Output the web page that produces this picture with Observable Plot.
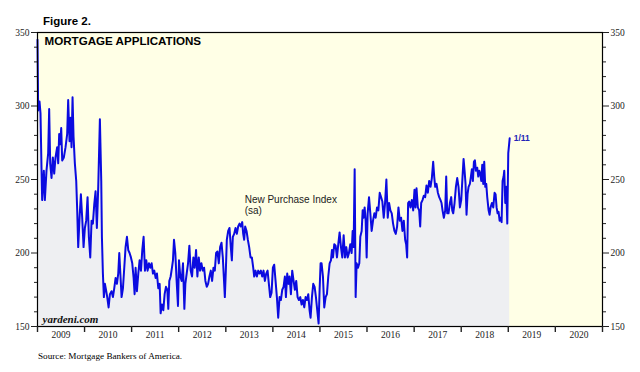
<!DOCTYPE html>
<html><head><meta charset="utf-8">
<script src="https://cdn.jsdelivr.net/npm/d3@7"></script>
<script src="https://cdn.jsdelivr.net/npm/@observablehq/plot@0.6"></script>
<style>
html,body{margin:0;padding:0;background:#fff;}
#wrap{position:relative;width:640px;height:372px;overflow:hidden;}
#chart{position:absolute;left:0;top:0;}
#title{position:absolute;left:43px;top:13px;font:bold 11.5px "Liberation Sans",Arial,sans-serif;line-height:16px;color:#000;}
#source{position:absolute;left:38px;top:349px;font:9.2px "Liberation Serif","Times New Roman",serif;line-height:14px;color:#000;}
</style></head><body>
<div id="wrap"><div id="chart"></div><div id="title"></div><div id="source"></div></div>
<script>
// ---- texts ----
const figureTitle = "Figure 2.";
const panelTitle = "MORTGAGE APPLICATIONS";
const seriesLabel = "New Purchase Index\n(sa)";
const seriesLabelAt = [2013.40, 232.7];
const lastLabel = "1/11";
const brand = "yardeni.com";
const sourceText = "Source: Mortgage Bankers of America.";

// ---- ticks ----
const yMajor = [150, 200, 250, 300, 350];
const yMinor = [160, 170, 180, 190, 210, 220, 230, 240, 260, 270, 280, 290, 310, 320, 330, 340];
const yearBounds = [2009, 2010, 2011, 2012, 2013, 2014, 2015, 2016, 2017, 2018, 2019, 2020, 2021];
const yearLabels = ["2009", "2010", "2011", "2012", "2013", "2014", "2015", "2016", "2017", "2018", "2019", "2020"];

// ---- data: weekly New Purchase Index (decimal year, value) ----
const weekPos = [
2009.000,2009.014,2009.043,2009.064,2009.085,2009.099,2009.135,2009.156,2009.191,2009.227,2009.248,2009.270,2009.298,2009.326,2009.355,2009.383,2009.418,2009.440,2009.461,2009.482,2009.504,2009.525,2009.560,2009.596,2009.631,2009.652,2009.681,2009.702,2009.723,2009.745,2009.766,2009.794,2009.823,2009.844,2009.865,2009.894,2009.922,2009.950,2009.979,
2010.007,2010.035,2010.064,2010.092,2010.121,2010.149,2010.177,2010.206,2010.234,2010.262,2010.291,2010.326,2010.355,2010.369,2010.390,2010.411,2010.433,2010.461,2010.482,2010.511,2010.539,2010.574,2010.603,2010.631,2010.660,2010.688,2010.716,2010.738,2010.766,2010.787,2010.816,2010.844,2010.872,2010.901,2010.929,2010.957,2010.986,
2011.014,2011.043,2011.064,2011.085,2011.113,2011.142,2011.170,2011.199,2011.227,2011.255,2011.284,2011.312,2011.340,2011.369,2011.397,2011.426,2011.454,2011.482,2011.511,2011.539,2011.567,2011.596,2011.617,2011.645,2011.674,2011.702,2011.730,2011.759,2011.780,2011.801,2011.830,2011.858,2011.879,2011.901,2011.929,2011.957,2011.986,
2012.007,2012.035,2012.064,2012.092,2012.121,2012.142,2012.170,2012.199,2012.227,2012.255,2012.284,2012.312,2012.340,2012.369,2012.397,2012.426,2012.454,2012.482,2012.511,2012.539,2012.567,2012.596,2012.624,2012.652,2012.681,2012.709,2012.738,2012.766,2012.794,2012.823,2012.851,2012.879,2012.908,2012.936,2012.957,2012.979,
2013.000,2013.021,2013.050,2013.078,2013.106,2013.128,2013.149,2013.177,2013.206,2013.234,2013.262,2013.291,2013.319,2013.348,2013.369,2013.390,2013.411,2013.440,2013.468,2013.496,2013.525,2013.553,2013.582,2013.603,2013.631,2013.660,2013.688,2013.716,2013.745,2013.773,2013.801,2013.830,2013.858,2013.887,2013.915,2013.943,2013.972,
2014.000,2014.028,2014.057,2014.085,2014.113,2014.142,2014.170,2014.199,2014.227,2014.255,2014.277,2014.305,2014.333,2014.355,2014.383,2014.411,2014.440,2014.468,2014.496,2014.525,2014.553,2014.582,2014.610,2014.638,2014.667,2014.695,2014.723,2014.752,2014.780,2014.801,2014.830,2014.858,2014.887,2014.915,2014.943,2014.972,2014.993,
2015.014,2015.035,2015.064,2015.092,2015.121,2015.149,2015.177,2015.206,2015.234,2015.255,2015.277,2015.305,2015.333,2015.362,2015.390,2015.418,2015.447,2015.475,2015.504,2015.532,2015.560,2015.589,2015.617,2015.645,2015.674,2015.695,2015.716,2015.738,2015.759,2015.780,2015.809,2015.837,2015.858,2015.887,2015.908,2015.929,2015.950,2015.972,2015.993,
2016.014,2016.043,2016.071,2016.099,2016.128,2016.156,2016.184,2016.213,2016.241,2016.270,2016.298,2016.326,2016.355,2016.383,2016.411,2016.440,2016.468,2016.496,2016.525,2016.553,2016.582,2016.610,2016.638,2016.667,2016.695,2016.723,2016.752,2016.780,2016.809,2016.830,2016.851,2016.872,2016.894,2016.922,2016.950,2016.979,
2017.007,2017.028,2017.050,2017.078,2017.106,2017.128,2017.149,2017.177,2017.206,2017.234,2017.262,2017.291,2017.319,2017.348,2017.376,2017.404,2017.426,2017.447,2017.475,2017.504,2017.532,2017.560,2017.582,2017.603,2017.631,2017.660,2017.681,2017.702,2017.730,2017.759,2017.787,2017.809,2017.830,2017.858,2017.887,2017.915,2017.943,2017.972,
2018.000,2018.028,2018.050,2018.071,2018.092,2018.113,2018.135,2018.156,2018.184,2018.206,2018.227,2018.248,2018.270,2018.291,2018.312,2018.340,2018.362,2018.383,2018.404,2018.426,2018.447,2018.468,2018.489,2018.511,2018.532,2018.553,2018.582,2018.603,2018.624,2018.652,2018.681,2018.709,2018.730,2018.752,2018.773,2018.794,2018.816,2018.837,2018.858,2018.879,2018.901,2018.915,2018.936,2018.957,2018.979,
2019.000,2019.030
];
const purchaseIndex = [
345,297,303,295,258,236,256,236,256,268,298,261,251,265,254,265,272,261,281,274,285,263,265,272,281,304,276,292,272,306,279,261,249,229,204,224,240,224,204,
217,222,238,211,197,222,220,233,242,217,245,291,249,211,186,170,179,174,170,163,172,174,170,176,183,179,186,200,183,170,176,190,204,211,202,200,197,
193,183,172,190,174,186,195,188,202,211,188,195,188,193,190,193,186,188,183,186,176,179,159,165,161,172,177,175,162,181,184,190,195,209,200,181,164,
195,184,181,193,162,179,186,193,205,188,184,197,190,202,184,197,188,193,188,190,181,177,179,184,188,181,190,188,200,201,193,204,207,197,184,170,
188,209,215,217,204,195,211,213,217,213,218,220,218,221,213,209,218,215,209,204,197,197,190,184,188,184,188,186,188,184,188,181,186,188,179,170,173,
190,192,181,170,156,170,168,175,177,184,170,186,179,184,172,188,181,175,181,170,168,170,165,168,163,170,168,172,161,156,170,179,177,170,161,152,175,
193,193,184,163,170,172,184,193,195,202,197,206,205,197,206,214,204,197,212,197,204,197,200,206,200,215,204,257,170,193,190,193,211,215,229,224,231,222,197,
227,238,227,215,222,227,224,231,229,241,238,235,224,234,250,224,234,229,227,220,215,213,218,231,222,224,215,222,209,206,197,234,235,231,236,229,
243,231,244,231,229,218,234,236,239,238,246,241,249,245,251,262,252,245,247,241,238,236,234,229,224,229,252,227,227,234,238,229,227,234,245,251,245,231,
236,252,264,256,247,226,240,245,247,252,257,249,262,263,256,258,252,256,254,249,260,247,262,245,247,238,229,226,231,234,231,241,240,231,227,228,222,224,221,249,252,256,234,245,220,
268,278
];

const toDate = (t) => {
  const y = Math.floor(t);
  const a = Date.UTC(y, 0, 1), b = Date.UTC(y + 1, 0, 1);
  return new Date(a + (t - y) * (b - a));
};
const data = weekPos.map((t, i) => ({date: toDate(t), value: purchaseIndex[i]}));
const last = data[data.length - 1];
const yearStarts = yearBounds.map(y => new Date(Date.UTC(y, 0, 1)));
const yearMids = yearLabels.map(s => new Date(Date.UTC(+s, 6, 2)));
const labelOf = new Map(yearLabels.map(s => [+s, s]));

const serif = "'Liberation Serif','Times New Roman',serif";
const sans = "'Liberation Sans',Arial,Helvetica,sans-serif";

const chart = Plot.plot({
  width: 640, height: 372,
  marginLeft: 37, marginRight: 38, marginTop: 32, marginBottom: 46,
  style: {background: "transparent", fontFamily: serif, fontSize: "9.5px", color: "#222", overflow: "visible"},
  x: {type: "utc", domain: [yearStarts[0], yearStarts[yearStarts.length - 1]]},
  y: {domain: [150, 350]},
  marks: [
    Plot.frame({fill: "#FFFFE6", stroke: null}),
    Plot.areaY(data, {x: "date", y1: 150, y2: "value", fill: "#EEEFF2"}),
    Plot.line(data, {x: "date", y: "value", stroke: "#0B0BE0", strokeWidth: 2}),
    Plot.frame({stroke: "#000", strokeWidth: 1.2}),
    Plot.axisY(yMajor, {anchor: "left", tickSize: 6, tickPadding: 2, label: null, fontFamily: serif, fontSize: 9.5}),
    Plot.axisY(yMinor, {anchor: "left", tickSize: 3, tickFormat: () => "", label: null}),
    Plot.axisY(yMajor, {anchor: "right", tickSize: 6, tickPadding: 2, label: null, fontFamily: serif, fontSize: 9.5}),
    Plot.axisY(yMinor, {anchor: "right", tickSize: 3, tickFormat: () => "", label: null}),
    Plot.axisX(yearStarts, {anchor: "bottom", tickSize: 6, strokeWidth: 1.4, tickFormat: () => "", label: null}),
    Plot.axisX(yearMids, {anchor: "bottom", tickSize: 0, tickPadding: 5, tickFormat: d => labelOf.get(d.getUTCFullYear()), label: null, fontFamily: serif, fontSize: 9.5}),
    Plot.text([panelTitle], {text: d => d, frameAnchor: "top-left", dx: 7, dy: 4, lineAnchor: "top", textAnchor: "start",
      fontFamily: sans, fontWeight: "bold", fontSize: 11.6, fill: "#000"}),
    Plot.text([brand], {text: d => d, frameAnchor: "bottom-left", dx: 5, dy: -7, lineAnchor: "middle", textAnchor: "start",
      fontFamily: serif, fontStyle: "italic", fontWeight: "bold", fontSize: 11, fill: "#111"}),
    Plot.text([seriesLabel], {text: d => d, x: () => toDate(seriesLabelAt[0]), y: () => seriesLabelAt[1], textAnchor: "start",
      lineAnchor: "middle", lineHeight: 1.1, fontFamily: sans, fontSize: 10, fill: "#222"}),
    Plot.text([last], {x: "date", y: "value", text: () => lastLabel, dx: 4, textAnchor: "start",
      fontFamily: sans, fontSize: 8.5, fontWeight: "bold", fill: "#2424B8"})
  ]
});
document.getElementById("chart").appendChild(chart);
document.getElementById("title").textContent = figureTitle;
document.getElementById("source").textContent = sourceText;
</script>
</body></html>
